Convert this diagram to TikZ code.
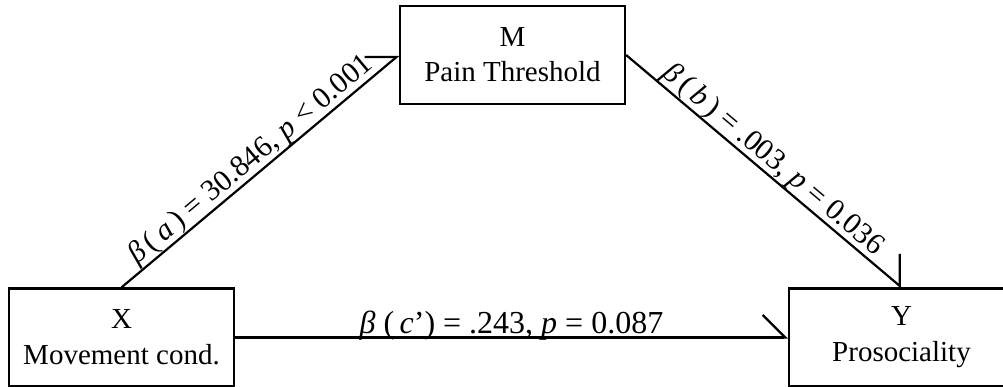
\documentclass[tikz,border=0pt]{standalone}
\usepackage{fontspec}
\setmainfont{Liberation Serif}
\usetikzlibrary{arrows.meta}
\tikzset{
  box/.style={draw, line width=2.2pt, minimum width=225pt, minimum height=98pt,
    inner sep=0pt, align=center, font=\fontsize{29}{36}\selectfont},
  conn/.style={line width=2.2pt},
  lbl/.style={font=\fontsize{32}{36}\selectfont, inner sep=0pt, text depth=0pt, outer sep=4pt},
  dlbl/.style={lbl, font=\fontsize{30}{36}\selectfont, outer sep=7pt},
}
\newcommand{\bt}{\textit{β}}
\begin{document}
\begin{tikzpicture}[x=1pt,y=-1pt]
\useasboundingbox (0,0) rectangle (1003,387);
\node[box] (M) at (512.5,55) {M\\[-1pt]Pain Threshold};
\node[box] (X) at (121.5,337.5) {X\\Movement cond.};
\node[box] (Y) at (901.5,337.5) {Y\\Prosociality};
\draw[conn, -{Straight Barb[left, angle=80:32pt]}] (X.north) -- node[dlbl, sloped, above] {\bt\,(\,\textit{a}\,) = 30.846, \textit{p} < 0.001} (M.west);
\draw[conn, -{Straight Barb[left, angle=100:32pt]}] (M.east) -- node[dlbl, sloped, above] {\bt\,(\,\textit{b}\,) = .003, \textit{p} = 0.036} (Y.north);
\draw[conn, -{Straight Barb[left, angle=90:32pt]}] (X.east) -- node[lbl, above] {\bt\ (\,\textit{c}’) = .243, \textit{p} = 0.087} (Y.west);
\end{tikzpicture}
\end{document}
